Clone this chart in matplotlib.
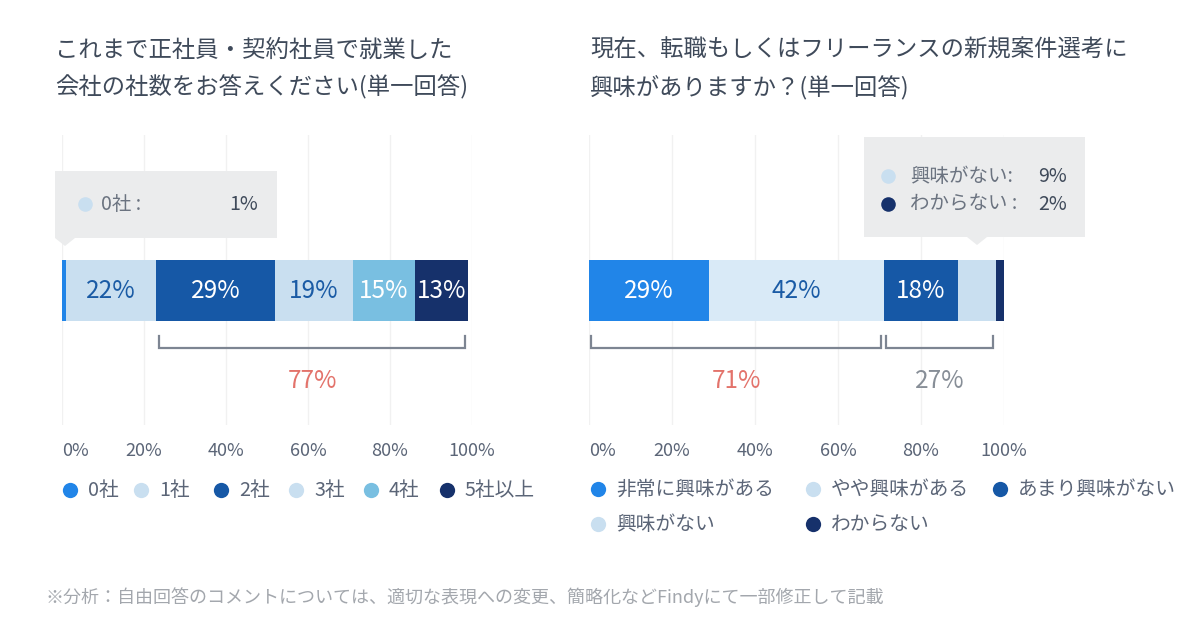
import matplotlib
matplotlib.use("Agg")
import matplotlib.pyplot as plt
from matplotlib.patches import Rectangle, Polygon
import numpy as np

plt.rcParams['font.family'] = ['Noto Sans CJK JP', 'DejaVu Sans']

# ---------------- data ----------------
left_title = ["これまで正社員・契約社員で就業した", "会社の社数をお答えください(単一回答)"]
left_categories = ["0社", "1社", "2社", "3社", "4社", "5社以上"]
left_values = [1, 22, 29, 19, 15, 13]
left_groups = [(2, 5, "77%")]

right_title = ["現在、転職もしくはフリーランスの新規案件選考に", "興味がありますか？(単一回答)"]
right_categories = ["非常に興味がある", "やや興味がある", "あまり興味がない", "興味がない", "わからない"]
right_values = [29, 42, 18, 9, 2]
right_groups = [(0, 1, "71%"), (2, 3, "27%")]

tick_values = [0, 20, 40, 60, 80, 100]
tick_labels = ["0%", "20%", "40%", "60%", "80%", "100%"]

footnote = "※分析：自由回答のコメントについては、適切な表現への変更、簡略化などFindyにて一部修正して記載"

# ---------------- style ----------------
left_colors = ["#2185e8", "#c9dff0", "#1658a6", "#c9dff0", "#79bfe1", "#16316b"]
left_text = ["white", "#1a5ba5", "white", "#1a5ba5", "white", "white"]
right_colors = ["#2185e8", "#d9eaf7", "#1658a6", "#c9dff0", "#16316b"]
right_text = ["white", "#1a5ba5", "white", "#1a5ba5", "white"]
group_colors_left = ["#e3736b"]
group_colors_right = ["#e3736b", "#878e97"]

TITLE_C = "#3f4a5a"
TICK_C = "#5b6577"
GRID_C = "#f1f1f1"
BRACKET_C = "#7d8592"
TIP_BG = "#ebeced"

W, H = 1200, 644
fig = plt.figure(figsize=(12, 6.44), dpi=100)

def px_axes(x0, x1, y0, y1):
    return fig.add_axes([x0 / W, 1 - y1 / H, (x1 - x0) / W, (y1 - y0) / H])

overlay = fig.add_axes([0, 0, 1, 1])
overlay.set_xlim(0, W)
overlay.set_ylim(H, 0)
overlay.axis("off")
overlay.patch.set_alpha(0)
overlay.set_zorder(5)

def draw_bar(ax, values, colors, tcolors, groups, gcolors):
    ax.set_xlim(0, 100)
    ax.set_ylim(425, 135)
    ax.set_xticks(tick_values)
    ax.set_xticklabels(tick_labels)
    ax.tick_params(axis="x", length=0, pad=12, labelsize=13, labelcolor=TICK_C)
    ax.set_yticks([])
    for s in ax.spines.values():
        s.set_visible(False)
    ax.grid(axis="x", color=GRID_C, lw=1)
    ax.set_axisbelow(True)
    lab = ax.get_xticklabels()[0]
    lab.set_horizontalalignment("left")
    lefts = np.concatenate([[0], np.cumsum(values)[:-1]])
    ax.barh(290.5, values, left=lefts, height=61, color=colors, zorder=3)
    for v, l, tc in zip(values, lefts, tcolors):
        if v >= 10:
            ax.text(l + v / 2, 291, f"{v}%", ha="center", va="center",
                    fontsize=17.5, color=tc, zorder=4)
    for (i0, i1, txt), gc in zip(groups, gcolors):
        xa = lefts[i0] + 0.6
        xb = lefts[i1] + values[i1] - 0.6
        ax.plot([xa, xa, xb, xb], [336, 348, 348, 336], color=BRACKET_C, lw=1.6,
                solid_joinstyle="miter", zorder=3)
        ax.text((xa + xb) / 2, 381, txt, ha="center", va="center", fontsize=17.5, color=gc)
    return lefts

axL = px_axes(62, 472, 135, 425)
lL = draw_bar(axL, left_values, left_colors, left_text, left_groups, group_colors_left)
axR = px_axes(589, 1004, 135, 425)
lR = draw_bar(axR, right_values, right_colors, right_text, right_groups, group_colors_right)

# titles
for i, t in enumerate(left_title):
    overlay.text(55, 50 + i * 37, t, ha="left", va="center", fontsize=16.8, color=TITLE_C)
for i, t in enumerate(right_title):
    overlay.text(590, 50 + i * 37, t, ha="left", va="center", fontsize=16.8, color=TITLE_C)

def to_px(ax, xdata):
    disp = ax.transData.transform((xdata, 290))
    return overlay.transData.inverted().transform(disp)[0]

# tooltips
def tooltip(x0, x1, y0, y1, tip_x, rows, val_x, dot_dx, text_dx):
    overlay.add_patch(Rectangle((x0, y0), x1 - x0, y1 - y0, color=TIP_BG, lw=0, zorder=1))
    bx = max(x0, tip_x - 10)
    overlay.add_patch(Polygon([[bx, y1], [bx + 20, y1], [bx + 10, y1 + 8]],
                              closed=True, color=TIP_BG, lw=0, zorder=1))
    for (y, col, name, val) in rows:
        overlay.plot(x0 + dot_dx, y, "o", ms=10.5, color=col, mec="none", zorder=2)
        overlay.text(x0 + text_dx, y, name, ha="left", va="center",
                     fontsize=14, color="#6b7380", zorder=2)
        overlay.text(val_x, y, val, ha="right", va="center", fontsize=14, color=TITLE_C, zorder=2)

tipL = to_px(axL, lL[0] + left_values[0] / 2)
tooltip(55, 277, 171, 238, tipL,
        [(204, left_colors[1], left_categories[0] + " :", f"{left_values[0]}%")], 258, 30, 46)
tipR = to_px(axR, lR[3] + right_values[3] / 2)
tooltip(864, 1085, 137, 237, tipR,
        [(176, right_colors[3], right_categories[3] + ":", f"{right_values[3]}%"),
         (204, right_colors[4], right_categories[4] + " :", f"{right_values[4]}%")], 1067, 24, 46)

# legends
left_leg_x = [70, 141, 221, 296, 371, 447]
for x, c, name in zip(left_leg_x, left_colors, left_categories):
    overlay.plot(x, 490, "o", ms=11, color=c, mec="none")
    overlay.text(x + 18, 490, name, ha="left", va="center", fontsize=14.2, color=TICK_C)

right_leg_pos = [(598, 489), (813, 489), (1000, 489), (598, 524), (813, 524)]
for (x, y), c, name in zip(right_leg_pos, right_colors, right_categories):
    overlay.plot(x, y, "o", ms=11, color=c if c != "#d9eaf7" else "#c9dff0", mec="none")
    overlay.text(x + 18, y, name, ha="left", va="center", fontsize=14.2, color=TICK_C)

overlay.text(45, 597, footnote, ha="left", va="center", fontsize=13, color="#a3a7ad")

fig.savefig("out.png", dpi=100, facecolor="white")
